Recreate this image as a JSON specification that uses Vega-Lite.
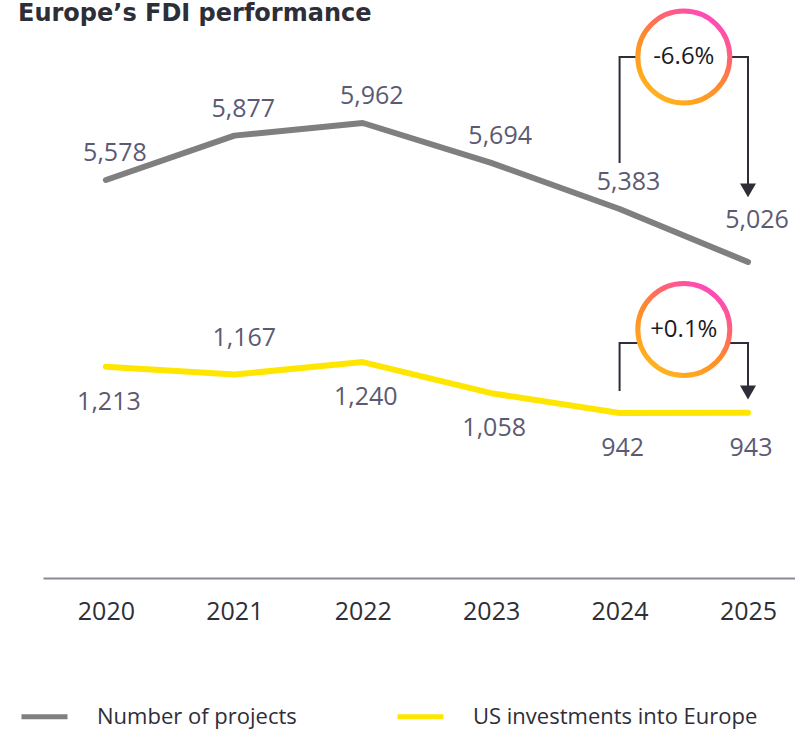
{
  "$schema": "https://vega.github.io/schema/vega-lite/v6.json",
  "width": 752,
  "height": 538,
  "autosize": {"type": "none"},
  "padding": {"left": 43, "top": 40, "right": 0, "bottom": 153},
  "background": "white",
  "title": {"text": "Europe’s FDI performance", "anchor": "start", "frame": "group", "dx": -25, "dy": 10, "fontSize": 24, "font": "DejaVu Sans", "fontWeight": "bold", "color": "#2e2e38", "offset": -15},
  "config": {"view": {"stroke": null}, "font": "Open Sans"},
  "datasets": {
    "main": [
      {"year": 2020, "series": "Number of projects", "value": 5578},
      {"year": 2021, "series": "Number of projects", "value": 5877},
      {"year": 2022, "series": "Number of projects", "value": 5962},
      {"year": 2023, "series": "Number of projects", "value": 5694},
      {"year": 2024, "series": "Number of projects", "value": 5383},
      {"year": 2025, "series": "Number of projects", "value": 5026},
      {"year": 2020, "series": "US investments into Europe", "value": 1213},
      {"year": 2021, "series": "US investments into Europe", "value": 1167},
      {"year": 2022, "series": "US investments into Europe", "value": 1240},
      {"year": 2023, "series": "US investments into Europe", "value": 1058},
      {"year": 2024, "series": "US investments into Europe", "value": 942},
      {"year": 2025, "series": "US investments into Europe", "value": 943}
    ],
    "ann": [
      {"group": "projects", "kind": "bracket", "year": 2024, "value": 5693, "o": 1},
      {"group": "projects", "kind": "bracket", "year": 2024, "value": 6406, "o": 2},
      {"group": "projects", "kind": "bracket", "year": 2025, "value": 6406, "o": 3},
      {"group": "projects", "kind": "bracket", "year": 2025, "value": 5508, "o": 4},
      {"group": "projects", "kind": "circle", "year": 2024.5, "value": 6406, "label": "-6.6%"},
      {"group": "projects", "kind": "arrow", "year": 2025, "value": 5508},
      {"group": "us", "kind": "bracket", "year": 2024, "value": 1071, "o": 1},
      {"group": "us", "kind": "bracket", "year": 2024, "value": 1351, "o": 2},
      {"group": "us", "kind": "bracket", "year": 2025, "value": 1351, "o": 3},
      {"group": "us", "kind": "bracket", "year": 2025, "value": 1062, "o": 4},
      {"group": "us", "kind": "circle", "year": 2024.5, "value": 1430, "label": "+0.1%"},
      {"group": "us", "kind": "arrow", "year": 2025, "value": 1062}
    ]
  },
  "encoding": {
    "x": {
      "field": "year", "type": "quantitative",
      "scale": {"domain": [2019.51, 2025.366], "nice": false, "zero": false},
      "axis": {"values": [2020, 2021, 2022, 2023, 2024, 2025], "format": "d", "title": null, "ticks": false, "grid": false, "domainColor": "#8a8a94", "domainWidth": 2, "labelFontSize": 25, "labelColor": "#2e2e38", "labelPadding": 21, "labelFont": "Open Sans", "labelFlush": false}
    }
  },
  "layer": [
    {
      "layer": [
        {
          "data": {"name": "main"},
          "transform": [{"filter": "datum.series === 'Number of projects'"}],
          "mark": {"type": "line", "strokeWidth": 6, "strokeCap": "round", "strokeJoin": "round"},
          "encoding": {
            "y": {"field": "value", "type": "quantitative", "scale": {"domain": [2898, 6521], "nice": false, "zero": false}, "axis": null},
            "color": {
              "field": "series", "type": "nominal",
              "scale": {"domain": ["Number of projects", "US investments into Europe"], "range": ["#7f7f7f", "#ffe600"]},
              "legend": {"orient": "none", "legendX": -24, "legendY": 651, "direction": "horizontal", "title": null, "symbolType": "stroke", "symbolSize": 2116, "symbolStrokeWidth": 5, "labelFontSize": 22, "labelColor": "#2e2e38", "labelFont": "Open Sans", "labelOffset": 27, "columnPadding": 90, "labelLimit": 400}
            }
          }
        },
        {
          "data": {"name": "main"},
          "transform": [{"filter": "datum.series === 'Number of projects' && datum.year !== 2025"}],
          "mark": {"type": "text", "fontSize": 25, "color": "#5b5a74", "align": "center", "baseline": "alphabetic", "dx": 9, "dy": -19},
          "encoding": {
            "y": {"field": "value", "type": "quantitative", "scale": {"domain": [2898, 6521], "nice": false, "zero": false}, "axis": null},
            "text": {"field": "value", "type": "quantitative", "format": ","}
          }
        },
        {
          "data": {"name": "main"},
          "transform": [{"filter": "datum.series === 'Number of projects' && datum.year === 2025"}],
          "mark": {"type": "text", "fontSize": 25, "color": "#5b5a74", "align": "center", "baseline": "alphabetic", "dx": 9, "dy": -34},
          "encoding": {
            "y": {"field": "value", "type": "quantitative", "scale": {"domain": [2898, 6521], "nice": false, "zero": false}, "axis": null},
            "text": {"field": "value", "type": "quantitative", "format": ","}
          }
        },
        {
          "data": {"name": "ann"},
          "transform": [{"filter": "datum.group === 'projects' && datum.kind === 'bracket'"}],
          "mark": {"type": "line", "color": "#2e2e38", "strokeWidth": 2},
          "encoding": {
            "y": {"field": "value", "type": "quantitative", "scale": {"domain": [2898, 6521], "nice": false, "zero": false}, "axis": null},
            "order": {"field": "o", "type": "quantitative"}
          }
        },
        {
          "data": {"name": "ann"},
          "transform": [{"filter": "datum.group === 'projects' && datum.kind === 'circle'"}],
          "mark": {"type": "point", "shape": "circle", "size": 8464, "filled": false, "fill": "white", "fillOpacity": 1, "opacity": 1, "strokeWidth": 5,
            "stroke": {"gradient": "linear", "x1": 0.2, "y1": 1, "x2": 0.85, "y2": 0, "stops": [{"offset": 0, "color": "#ffb81c"}, {"offset": 0.45, "color": "#ff8a2a"}, {"offset": 0.7, "color": "#ff6470"}, {"offset": 1, "color": "#ff40d0"}]}},
          "encoding": {
            "y": {"field": "value", "type": "quantitative", "scale": {"domain": [2898, 6521], "nice": false, "zero": false}, "axis": null}
          }
        },
        {
          "data": {"name": "ann"},
          "transform": [{"filter": "datum.group === 'projects' && datum.kind === 'circle'"}],
          "mark": {"type": "text", "fontSize": 24, "color": "#1a1a24", "align": "center", "baseline": "middle"},
          "encoding": {
            "y": {"field": "value", "type": "quantitative", "scale": {"domain": [2898, 6521], "nice": false, "zero": false}, "axis": null},
            "text": {"field": "label"}
          }
        },
        {
          "data": {"name": "ann"},
          "transform": [{"filter": "datum.group === 'projects' && datum.kind === 'arrow'"}],
          "mark": {"type": "point", "shape": "triangle-down", "size": 256, "filled": true, "color": "#2e2e38", "opacity": 1},
          "encoding": {
            "y": {"field": "value", "type": "quantitative", "scale": {"domain": [2898, 6521], "nice": false, "zero": false}, "axis": null}
          }
        }
      ]
    },
    {
      "layer": [
        {
          "data": {"name": "main"},
          "transform": [{"filter": "datum.series === 'US investments into Europe'"}],
          "mark": {"type": "line", "strokeWidth": 6, "strokeCap": "round", "strokeJoin": "round"},
          "encoding": {
            "y": {"field": "value", "type": "quantitative", "scale": {"domain": [-22, 3122], "nice": false, "zero": false}, "axis": null},
            "color": {"field": "series", "type": "nominal"}
          }
        },
        {
          "data": {"name": "main"},
          "transform": [{"filter": "datum.series === 'US investments into Europe' && datum.year !== 2021"}],
          "mark": {"type": "text", "fontSize": 25, "color": "#5b5a74", "align": "center", "baseline": "alphabetic", "dx": 3, "dy": 43},
          "encoding": {
            "y": {"field": "value", "type": "quantitative", "scale": {"domain": [-22, 3122], "nice": false, "zero": false}, "axis": null},
            "text": {"field": "value", "type": "quantitative", "format": ","}
          }
        },
        {
          "data": {"name": "main"},
          "transform": [{"filter": "datum.series === 'US investments into Europe' && datum.year === 2021"}],
          "mark": {"type": "text", "fontSize": 25, "color": "#5b5a74", "align": "center", "baseline": "alphabetic", "dx": 10, "dy": -29},
          "encoding": {
            "y": {"field": "value", "type": "quantitative", "scale": {"domain": [-22, 3122], "nice": false, "zero": false}, "axis": null},
            "text": {"field": "value", "type": "quantitative", "format": ","}
          }
        },
        {
          "data": {"name": "ann"},
          "transform": [{"filter": "datum.group === 'us' && datum.kind === 'bracket'"}],
          "mark": {"type": "line", "color": "#2e2e38", "strokeWidth": 2},
          "encoding": {
            "y": {"field": "value", "type": "quantitative", "scale": {"domain": [-22, 3122], "nice": false, "zero": false}, "axis": null},
            "order": {"field": "o", "type": "quantitative"}
          }
        },
        {
          "data": {"name": "ann"},
          "transform": [{"filter": "datum.group === 'us' && datum.kind === 'circle'"}],
          "mark": {"type": "point", "shape": "circle", "size": 8464, "filled": false, "fill": "white", "fillOpacity": 1, "opacity": 1, "strokeWidth": 5,
            "stroke": {"gradient": "linear", "x1": 0.2, "y1": 1, "x2": 0.85, "y2": 0, "stops": [{"offset": 0, "color": "#ffb81c"}, {"offset": 0.45, "color": "#ff8a2a"}, {"offset": 0.7, "color": "#ff6470"}, {"offset": 1, "color": "#ff40d0"}]}},
          "encoding": {
            "y": {"field": "value", "type": "quantitative", "scale": {"domain": [-22, 3122], "nice": false, "zero": false}, "axis": null}
          }
        },
        {
          "data": {"name": "ann"},
          "transform": [{"filter": "datum.group === 'us' && datum.kind === 'circle'"}],
          "mark": {"type": "text", "fontSize": 24, "color": "#1a1a24", "align": "center", "baseline": "middle"},
          "encoding": {
            "y": {"field": "value", "type": "quantitative", "scale": {"domain": [-22, 3122], "nice": false, "zero": false}, "axis": null},
            "text": {"field": "label"}
          }
        },
        {
          "data": {"name": "ann"},
          "transform": [{"filter": "datum.group === 'us' && datum.kind === 'arrow'"}],
          "mark": {"type": "point", "shape": "triangle-down", "size": 256, "filled": true, "color": "#2e2e38", "opacity": 1},
          "encoding": {
            "y": {"field": "value", "type": "quantitative", "scale": {"domain": [-22, 3122], "nice": false, "zero": false}, "axis": null}
          }
        }
      ]
    }
  ],
  "resolve": {"scale": {"y": "independent"}}
}
